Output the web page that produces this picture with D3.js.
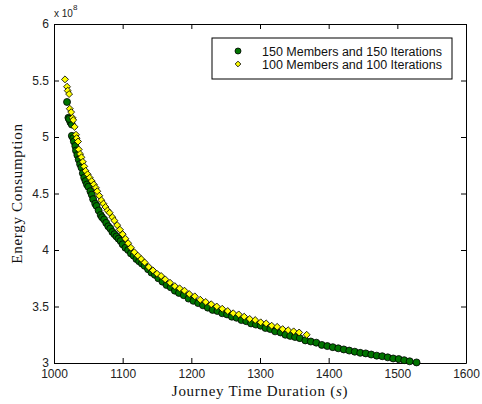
<!DOCTYPE html>
<html>
  <head>
    <meta charset="utf-8">
    <title>Energy consumption vs journey time</title>
    <script src="https://d3js.org/d3.v7.min.js"></script>
    <style>
      body { margin: 0; background: #fff; }
      #chart { display: block; }
      .tickText text { font-family: Arial, "Liberation Sans", sans-serif; font-size: 12px; fill: #222; }
      .axisLabel { font-family: "Times New Roman", "Liberation Serif", serif; font-size: 15px; letter-spacing: 0.7px; fill: #111; }
      .legendText { font-family: Arial, "Liberation Sans", sans-serif; font-size: 12.5px; fill: #111; }
    </style>
  </head>
  <body>
    <svg id="chart" width="482" height="404"></svg>
    <script>
      // data (energy in units of 1e8)
      xTicks = [1000, 1100, 1200, 1300, 1400, 1500, 1600];
      yTicks = [3, 3.5, 4, 4.5, 5, 5.5, 6];
      seriesNames = ["150 Members and 150 Iterations", "100 Members and 100 Iterations"];
      green150 = [
        [1019, 5.31], [1021, 5.17], [1023, 5.15], [1024, 5.13], [1026, 5.11], [1022, 5.16],
        [1026, 5.01], [1028, 4.99], [1029, 4.96], [1031, 4.92], [1032, 4.88], [1034, 4.84],
        [1036, 4.80], [1038, 4.76], [1040, 4.73], [1042, 4.68], [1044, 4.64], [1046, 4.61],
        [1048, 4.58], [1050, 4.56], [1053, 4.52], [1055, 4.49], [1057, 4.45], [1060, 4.41],
        [1062, 4.39], [1065, 4.35], [1068, 4.31], [1070, 4.29], [1073, 4.27], [1076, 4.24],
        [1079, 4.21], [1082, 4.19], [1085, 4.16], [1088, 4.14], [1091, 4.12], [1094, 4.10],
        [1097, 4.08], [1100, 4.05], [1104, 4.02], [1108, 4.00], [1112, 3.97], [1116, 3.95],
        [1120, 3.92], [1124, 3.90], [1128, 3.88], [1132, 3.86], [1137, 3.83], [1142, 3.80],
        [1147, 3.78], [1152, 3.75], [1158, 3.72], [1164, 3.69], [1170, 3.67], [1176, 3.64],
        [1182, 3.62], [1189, 3.60], [1196, 3.57], [1203, 3.55], [1210, 3.53], [1217, 3.51],
        [1224, 3.49], [1231, 3.47], [1238, 3.46], [1245, 3.44], [1252, 3.43], [1259, 3.41],
        [1266, 3.40], [1273, 3.38], [1280, 3.37], [1287, 3.35], [1294, 3.34], [1301, 3.33],
        [1308, 3.31], [1315, 3.30], [1322, 3.28], [1330, 3.27], [1337, 3.25], [1344, 3.24],
        [1351, 3.23], [1358, 3.22], [1366, 3.20], [1374, 3.19], [1382, 3.18], [1390, 3.16],
        [1398, 3.15], [1406, 3.14], [1414, 3.13], [1422, 3.12], [1430, 3.11], [1438, 3.10],
        [1446, 3.09], [1454, 3.085], [1462, 3.075], [1470, 3.065], [1478, 3.06], [1486, 3.05],
        [1494, 3.04], [1502, 3.035], [1510, 3.025], [1518, 3.015], [1528, 3.005]
      ];
      yellow100 = [
        [1016, 5.51], [1019, 5.445], [1020, 5.41], [1022, 5.38], [1023, 5.25], [1025, 5.22],
        [1027, 5.17], [1028, 5.15], [1030, 5.09], [1032, 5.02], [1033, 4.99], [1035, 4.96],
        [1036, 4.89], [1038, 4.85], [1040, 4.82], [1042, 4.78], [1044, 4.74], [1046, 4.70],
        [1049, 4.67], [1052, 4.64], [1055, 4.61], [1058, 4.58], [1061, 4.55], [1063, 4.52],
        [1066, 4.48], [1069, 4.44], [1072, 4.41], [1075, 4.38], [1078, 4.35], [1081, 4.33],
        [1085, 4.29], [1088, 4.26], [1092, 4.22], [1096, 4.18], [1100, 4.14], [1104, 4.10],
        [1108, 4.06], [1112, 4.02], [1117, 3.98], [1122, 3.95], [1127, 3.92], [1132, 3.89],
        [1138, 3.85], [1144, 3.82], [1150, 3.79], [1156, 3.77], [1162, 3.74], [1169, 3.71],
        [1176, 3.68], [1183, 3.66], [1190, 3.64], [1197, 3.61], [1205, 3.59], [1213, 3.56],
        [1221, 3.54], [1229, 3.52], [1237, 3.50], [1245, 3.48], [1253, 3.46], [1261, 3.44],
        [1269, 3.43], [1277, 3.41], [1285, 3.39], [1293, 3.38], [1301, 3.36], [1309, 3.35],
        [1317, 3.33], [1325, 3.32], [1333, 3.30], [1341, 3.29], [1349, 3.28], [1357, 3.27],
        [1368, 3.25]
      ];

      chart = d3.select("#chart");
      margin = { top: 24, right: 16, bottom: 41, left: 54 };
      width = 482;
      height = 404;
      x = d3.scaleLinear().domain([1000, 1600]).range([margin.left, width - margin.right]);
      y = d3.scaleLinear().domain([3, 6]).range([height - margin.bottom, margin.top]);

      // axes, inward ticks on all four sides
      chart.append("g").attr("class", "tickText")
        .attr("transform", "translate(0," + y(3) + ")")
        .call(d3.axisBottom(x).tickValues(xTicks).tickFormat(d3.format("d"))
          .tickSizeInner(-5).tickSizeOuter(0).tickPadding(6));
      chart.append("g").attr("class", "tickText")
        .attr("transform", "translate(" + x(1000) + ",0)")
        .call(d3.axisLeft(y).tickValues(yTicks).tickFormat(d3.format(""))
          .tickSizeInner(-5).tickSizeOuter(0).tickPadding(5));
      chart.append("g")
        .attr("transform", "translate(0," + y(6) + ")")
        .call(d3.axisTop(x).tickValues(xTicks).tickSizeInner(-5).tickSizeOuter(0).tickFormat(""));
      chart.append("g")
        .attr("transform", "translate(" + x(1600) + ",0)")
        .call(d3.axisRight(y).tickValues(yTicks).tickSizeInner(-5).tickSizeOuter(0).tickFormat(""));
      chart.selectAll(".domain").attr("stroke", "#000");
      chart.selectAll(".tick line").attr("stroke", "#000");

      // exponent label
      exp = chart.append("text").attr("x", x(1000)).attr("y", 17)
        .attr("font-family", "Arial, 'Liberation Sans', sans-serif").attr("font-size", 10).attr("fill", "#222");
      exp.append("tspan").text("x 10");
      exp.append("tspan").attr("dy", -7).attr("font-size", 8).text("8");

      // data points
      plot = chart.append("g");
      plot.selectAll("circle").data(green150).join("circle")
        .attr("cx", function(d) { return x(d[0]); })
        .attr("cy", function(d) { return y(d[1]); })
        .attr("r", 3.5)
        .attr("fill", "#007400")
        .attr("stroke", "#000")
        .attr("stroke-width", 0.8);
      diamond = d3.symbol().type(d3.symbolSquare).size(24);
      plot.selectAll("path.yel").data(yellow100).join("path")
        .attr("class", "yel")
        .attr("d", diamond)
        .attr("transform", function(d) { return "translate(" + x(d[0]) + "," + y(d[1]) + ") rotate(45)"; })
        .attr("fill", "#ffff00")
        .attr("stroke", "#000")
        .attr("stroke-width", 0.8);

      // axis labels
      xl = chart.append("text").attr("class", "axisLabel")
        .attr("x", (x(1000) + x(1600)) / 2).attr("y", 396).attr("text-anchor", "middle");
      xl.append("tspan").text("Journey Time Duration (");
      xl.append("tspan").attr("font-style", "italic").text("s");
      xl.append("tspan").text(")");
      chart.append("text").attr("class", "axisLabel")
        .attr("transform", "translate(22," + ((y(3) + y(6)) / 2) + ") rotate(-90)")
        .attr("text-anchor", "middle")
        .text("Energy Consumption");

      // legend
      legend = chart.append("g").attr("transform", "translate(212,38)");
      legend.append("rect").attr("width", 240).attr("height", 41)
        .attr("fill", "#fff").attr("stroke", "#000").attr("stroke-width", 1);
      legend.append("circle").attr("cx", 26).attr("cy", 13).attr("r", 3)
        .attr("fill", "#007400").attr("stroke", "#000").attr("stroke-width", 0.8);
      legend.append("path").attr("d", d3.symbol().type(d3.symbolSquare).size(16))
        .attr("transform", "translate(26,26) rotate(45)")
        .attr("fill", "#ffff00").attr("stroke", "#000").attr("stroke-width", 0.8);
      legend.selectAll(".legendText").data(seriesNames).join("text")
        .attr("class", "legendText")
        .attr("x", 50)
        .attr("y", function(d, i) { return 17.5 + i * 13; })
        .text(function(d) { return d; });
    </script>
  </body>
</html>
